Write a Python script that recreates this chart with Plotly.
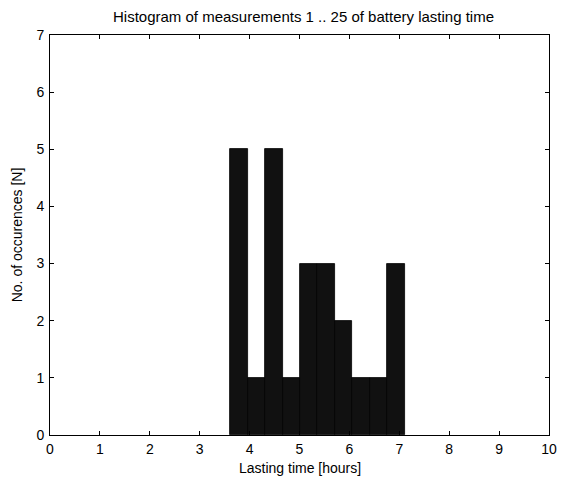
import numpy as np
import plotly.graph_objects as go

# Histogram data (10 bins, 25 measurements)
bin_low = 3.612      # left edge of first bin [hours]
bin_high = 7.108     # right edge of last bin [hours]
counts = [5, 1, 5, 1, 3, 3, 2, 1, 1, 3]
x_ticks = [0, 1, 2, 3, 4, 5, 6, 7, 8, 9, 10]
y_ticks = [0, 1, 2, 3, 4, 5, 6, 7]

edges = np.linspace(bin_low, bin_high, len(counts) + 1)
centers = (edges[:-1] + edges[1:]) / 2
width = edges[1] - edges[0]

font = "Liberation Sans, Arial, sans-serif"

fig = go.Figure()
fig.add_trace(go.Bar(
    x=centers, y=counts, width=width,
    marker=dict(color="#111111", line=dict(color="#000000", width=0.8)),
    hoverinfo="x+y",
))

axis_common = dict(
    showline=True, linecolor="black", linewidth=1, mirror="ticks",
    ticks="inside", ticklen=4, tickcolor="black", tickwidth=1,
    showgrid=False, zeroline=False, ticklabeloverflow="allow",
    tickfont=dict(family=font, size=14, color="black"),
)

fig.update_layout(
    width=564, height=478,
    margin=dict(l=50, r=7, t=35, b=43),
    paper_bgcolor="white", plot_bgcolor="white",
    showlegend=False, bargap=0,
    title=dict(text="Histogram of measurements 1 .. 25 of battery lasting time",
               x=(50 + 557) / 2 / 564, xanchor="center", y=1 - 17 / 478, yanchor="middle",
               font=dict(family=font, size=15, color="black")),
    xaxis=dict(range=[0, 10], tickvals=x_ticks, ticklabelstandoff=1, **axis_common),
    yaxis=dict(range=[0, 7], tickvals=y_ticks, ticklabelstandoff=2,
               title=dict(text="No. of occurences [N]", standoff=10,
                          font=dict(family=font, size=14, color="black")),
               **axis_common),
    annotations=[dict(text="Lasting time [hours]", xref="paper", yref="paper",
                      x=0.5, y=-0.105, xanchor="center", yanchor="bottom",
                      borderpad=0,
                      showarrow=False, font=dict(family=font, size=14, color="black"))],
)

fig.write_html(
    "out.html",
    config={"displayModeBar": False},
    post_script="document.body.style.margin='0';document.body.style.overflow='hidden';",
)
